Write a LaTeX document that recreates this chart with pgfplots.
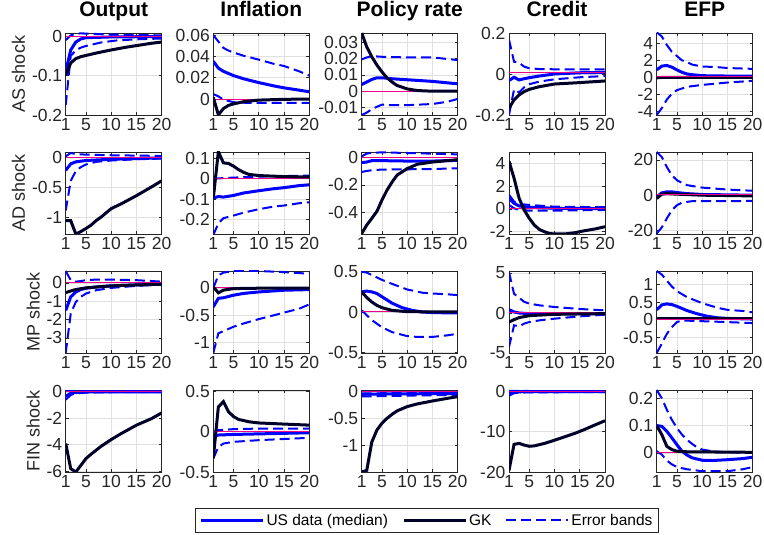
\documentclass[border=0pt]{standalone}
\usepackage{pgfplots}
\pgfplotsset{compat=1.18}
\usepackage{fontspec}
\setmainfont{Liberation Sans}

\definecolor{gkc}{RGB}{0,0,40}
\definecolor{axc}{RGB}{38,38,38}

\tikzset{
  med/.style={blue, line width=3pt},
  gk/.style={gkc, line width=3pt},
  band/.style={blue, line width=2pt, dash pattern=on 10pt off 5pt},
  zero/.style={magenta, line width=1pt},
}

\pgfplotsset{
  panel/.style={
    scale only axis, width=96pt, height=82pt,
    xmin=1, xmax=20, xtick={1,5,10,15,20},
    scaled y ticks=false,
    grid=major, major grid style={black!12, line width=0.6pt},
    axis line style={axc, line width=0.6pt},
    tick style={axc, line width=0.6pt}, major tick length=3pt,
    tick align=inside,
    ticklabel style={font=\fontsize{17.5}{17.5}\selectfont, text=axc},
    /pgf/number format/assume math mode=true,
    title style={font=\bfseries\fontsize{21}{21}\selectfont, anchor=base, yshift=10pt},
    ylabel style={font=\fontsize{18}{18}\selectfont, text=axc},
  },
}

\begin{document}
\begin{tikzpicture}
\useasboundingbox (0,0) rectangle (764pt,535pt);

% ---------- row 1: AS shock ----------
\begin{axis}[panel, at={(65.7pt,420pt)}, title=Output, ylabel={AS shock},
  ymin=-0.2, ymax=0.008, ytick={-0.2,-0.1,0}, yticklabels={-0.2,-0.1,0}]
\addplot[band] coordinates {(1,-0.01)(2,0.002)(3,0.006)(4,0.007)(6,0.006)(10,0.004)(15,0.003)(20,0.002)};
\addplot[band] coordinates {(1,-0.175)(2,-0.05)(3,-0.036)(4,-0.029)(5,-0.025)(8,-0.016)(11,-0.011)(15,-0.008)(20,-0.006)};
\addplot[med] coordinates {(1,-0.09)(2,-0.035)(3,-0.015)(4,-0.007)(5,-0.004)(10,-0.002)(20,-0.001)};
\addplot[zero] coordinates {(1,0)(20,0)};
\addplot[gk] coordinates {(1,-0.1)(2,-0.068)(3,-0.057)(4,-0.052)(5,-0.049)(7,-0.043)(10,-0.035)(13,-0.028)(15,-0.024)(18,-0.018)(20,-0.015)};
\end{axis}

\begin{axis}[panel, at={(213.3pt,420pt)}, title=Inflation,
  ymin=-0.015, ymax=0.062, ytick={0,0.02,0.04,0.06}, yticklabels={0,0.02,0.04,0.06}]
\addplot[band] coordinates {(1,0.06)(2,0.054)(3,0.048)(4,0.0455)(5,0.0437)(7,0.0406)(10,0.037)(13,0.033)(15,0.031)(18,0.026)(20,0.022)};
\addplot[band] coordinates {(1,0.0046)(2,0.0025)(3,-0.0006)(5,-0.003)(8,-0.0037)(20,-0.0037)};
\addplot[med] coordinates {(1,0.0354)(2,0.029)(3,0.026)(5,0.022)(7,0.019)(10,0.0154)(13,0.0123)(15,0.0105)(18,0.0083)(20,0.0068)};
\addplot[zero] coordinates {(1,0)(20,0)};
\addplot[gk] coordinates {(1,0.0015)(2,-0.0148)(3,-0.009)(4,-0.006)(5,-0.0046)(7,-0.0025)(10,-0.001)(15,-0.0003)(20,0)};
\end{axis}

\begin{axis}[panel, at={(361.7pt,420pt)}, title={Policy rate},
  ymin=-0.0145, ymax=0.0355, ytick={-0.01,0,0.01,0.02,0.03}, yticklabels={-0.01,0,0.01,0.02,0.03}]
\addplot[band] coordinates {(1,0.0194)(2,0.0206)(3,0.0214)(5,0.021)(10,0.0206)(15,0.0206)(20,0.019)};
\addplot[band] coordinates {(1,-0.0146)(2,-0.013)(3,-0.011)(4,-0.0095)(5,-0.0082)(7,-0.0085)(10,-0.0085)(15,-0.0078)(18,-0.0064)(20,-0.0047)};
\addplot[med] coordinates {(1,0.0041)(2,0.0056)(3,0.0072)(4,0.0082)(5,0.0082)(7,0.0076)(10,0.007)(15,0.006)(20,0.0045)};
\addplot[zero] coordinates {(1,0)(20,0)};
\addplot[gk] coordinates {(1,0.0355)(2,0.027)(3,0.021)(4,0.016)(5,0.0118)(6,0.0082)(7,0.0056)(8,0.0035)(10,0.0014)(12,0.0004)(15,0)(20,0)};
\end{axis}

\begin{axis}[panel, at={(509pt,420pt)}, title=Credit,
  ymin=-0.2, ymax=0.2, ytick={-0.2,0,0.2}, yticklabels={-0.2,0,0.2}]
\addplot[band] coordinates {(1,0.168)(2,0.06)(3,0.055)(4,0.036)(5,0.028)(7,0.024)(10,0.023)(20,0.023)};
\addplot[band] coordinates {(1,-0.2)(2,-0.075)(3,-0.09)(4,-0.065)(5,-0.05)(7,-0.037)(10,-0.026)(15,-0.016)(20,-0.01)};
\addplot[med] coordinates {(1,-0.032)(2,-0.016)(3,-0.029)(4,-0.023)(5,-0.018)(7,-0.01)(10,0)(15,0.006)(20,0.008)};
\addplot[zero] coordinates {(1,0.005)(20,0.005)};
\addplot[gk] coordinates {(1,-0.167)(2,-0.126)(3,-0.102)(4,-0.086)(5,-0.075)(7,-0.062)(10,-0.049)(15,-0.042)(20,-0.034)};
\end{axis}

\begin{axis}[panel, at={(656.7pt,420pt)}, title=EFP,
  ymin=-4.4, ymax=5.2, ytick={-4,-2,0,2,4}, yticklabels={-4,-2,0,2,4}]
\addplot[band] coordinates {(1,5.28)(2,4.8)(3,3.8)(4,3.0)(5,2.5)(6,2.0)(7,1.8)(8,1.5)(10,1.28)(13,1.2)(15,1.1)(20,1.0)};
\addplot[band] coordinates {(1,-4.4)(2,-3.6)(3,-2.6)(4,-1.9)(5,-1.5)(7,-1.1)(10,-0.88)(15,-0.6)(20,-0.4)};
\addplot[med] coordinates {(1,0.88)(2,1.32)(3,1.4)(4,1.2)(5,0.88)(6,0.6)(7,0.4)(8,0.32)(10,0.2)(15,0.16)(20,0.16)};
\addplot[gk] coordinates {(1,-0.05)(2,0)(20,0)};
\addplot[zero] coordinates {(1,0.1)(20,0.1)};
\end{axis}

% ---------- row 2: AD shock ----------
\begin{axis}[panel, at={(65.7pt,301pt)}, ylabel={AD shock},
  ymin=-1.27, ymax=0.087, ytick={-1,-0.5,0}, yticklabels={-1,-0.5,0}]
\addplot[band] coordinates {(1,0.016)(2,0.07)(3,0.054)(5,0.043)(10,0.033)(20,0.022)};
\addplot[band] coordinates {(1,-0.88)(2,-0.39)(3,-0.228)(4,-0.163)(5,-0.12)(7,-0.076)(10,-0.054)(15,-0.033)(20,-0.022)};
\addplot[med] coordinates {(1,-0.217)(2,-0.109)(3,-0.076)(5,-0.054)(10,-0.033)(20,-0.011)};
\addplot[zero] coordinates {(1,0)(20,0)};
\addplot[gk] coordinates {(1,-1.05)(2,-1.05)(3,-1.27)(4,-1.23)(5,-1.18)(6,-1.125)(7,-1.05)(8,-0.99)(10,-0.85)(12,-0.77)(15,-0.636)(18,-0.49)(20,-0.39)};
\end{axis}

\begin{axis}[panel, at={(213.3pt,301pt)},
  ymin=-0.27, ymax=0.13, ytick={-0.2,-0.1,0,0.1}, yticklabels={-0.2,-0.1,0,0.1}]
\addplot[band] coordinates {(1,0)(5,0.005)(10,0.01)(20,0.015)};
\addplot[band] coordinates {(1,-0.275)(2,-0.218)(3,-0.193)(5,-0.18)(7,-0.166)(10,-0.149)(13,-0.136)(15,-0.131)(18,-0.12)(20,-0.115)};
\addplot[med] coordinates {(1,-0.095)(2,-0.087)(3,-0.09)(5,-0.082)(7,-0.07)(10,-0.059)(13,-0.049)(15,-0.044)(18,-0.034)(20,-0.03)};
\addplot[zero] coordinates {(1,0)(20,0)};
\addplot[gk] coordinates {(1,-0.095)(2,0.131)(3,0.077)(4,0.074)(5,0.061)(6,0.044)(7,0.031)(8,0.021)(10,0.015)(15,0.01)(20,0.008)};
\end{axis}

\begin{axis}[panel, at={(361.7pt,301pt)},
  ymin=-0.552, ymax=0.036, ytick={-0.4,-0.2,0}, yticklabels={-0.4,-0.2,0}]
\addplot[band] coordinates {(1,0.005)(2,0.024)(3,0.031)(5,0.033)(10,0.029)(15,0.024)(20,0.019)};
\addplot[band] coordinates {(1,-0.107)(2,-0.1)(3,-0.095)(5,-0.09)(10,-0.088)(15,-0.086)(20,-0.081)};
\addplot[zero] coordinates {(1,0)(20,0)};
\addplot[med] coordinates {(1,-0.04)(2,-0.036)(3,-0.026)(5,-0.026)(10,-0.029)(15,-0.029)(20,-0.024)};
\addplot[gk] coordinates {(1,-0.548)(2,-0.488)(3,-0.44)(4,-0.39)(5,-0.31)(6,-0.238)(7,-0.18)(8,-0.13)(10,-0.083)(12,-0.052)(15,-0.036)(20,-0.019)};
\end{axis}

\begin{axis}[panel, at={(509pt,301pt)},
  ymin=-2.2, ymax=5, ytick={-2,0,2,4}, yticklabels={-2,0,2,4}]
\addplot[band] coordinates {(1,1.24)(2,0.65)(3,0.44)(5,0.35)(10,0.2)(20,0.15)};
\addplot[band] coordinates {(1,0.35)(2,0.06)(3,-0.09)(5,-0.15)(10,-0.15)(20,-0.09)};
\addplot[med] coordinates {(1,0.94)(2,0.5)(3,0.26)(5,0.15)(10,0.06)(20,0.03)};
\addplot[zero] coordinates {(1,0)(20,0)};
\addplot[gk] coordinates {(1,4.18)(2,2.7)(3,0.94)(4,-0.09)(5,-0.82)(6,-1.41)(7,-1.8)(8,-2.0)(9,-2.15)(10,-2.2)(12,-2.2)(14,-2.09)(16,-1.91)(18,-1.76)(20,-1.56)};
\end{axis}

\begin{axis}[panel, at={(656.7pt,301pt)},
  ymin=-22, ymax=24.5, ytick={-20,0,20}, yticklabels={-20,0,20}]
\addplot[band] coordinates {(1,24.5)(2,21.7)(3,16)(4,11.3)(5,8.5)(6,7)(7,5.7)(10,4.3)(15,3.2)(20,2.5)};
\addplot[band] coordinates {(1,-21.7)(2,-18.3)(3,-13.2)(4,-8.5)(5,-5.7)(6,-4.2)(8,-3.4)(15,-3.4)(20,-3.2)};
\addplot[med] coordinates {(1,-0.9)(2,1.3)(3,1.9)(4,1.9)(5,1.5)(7,0.9)(10,0.4)(20,0)};
\addplot[gk] coordinates {(1,-1.9)(2,0.6)(3,0.9)(5,0.6)(10,0)(20,-0.4)};
\addplot[zero] coordinates {(1,0.5)(20,0.5)};
\end{axis}

% ---------- row 3: MP shock ----------
\begin{axis}[panel, at={(65.7pt,182pt)}, ylabel={MP shock},
  ymin=-3.82, ymax=0.65, ytick={-3,-2,-1,0}, yticklabels={-3,-2,-1,0}]
\addplot[band] coordinates {(1,0.65)(2,0.15)(3,0.07)(4,0.1)(5,0.15)(7,0.18)(10,0.18)(15,0.15)(20,0.07)};
\addplot[band] coordinates {(1,-3.82)(2,-1.67)(3,-1.04)(4,-0.76)(5,-0.58)(7,-0.4)(10,-0.27)(15,-0.16)(20,-0.09)};
\addplot[med] coordinates {(1,-1.5)(2,-0.76)(3,-0.49)(4,-0.36)(5,-0.29)(7,-0.22)(10,-0.16)(15,-0.11)(20,-0.07)};
\addplot[zero] coordinates {(1,0)(20,0)};
\addplot[gk] coordinates {(1,-0.53)(2,-0.44)(3,-0.36)(5,-0.27)(10,-0.16)(15,-0.11)(20,-0.07)};
\end{axis}

\begin{axis}[panel, at={(213.3pt,182pt)},
  ymin=-1.19, ymax=0.31, ytick={-1,-0.5,0}, yticklabels={-1,-0.5,0}]
\addplot[band] coordinates {(1,0)(2,0.23)(3,0.28)(5,0.31)(10,0.31)(15,0.29)(20,0.26)};
\addplot[band] coordinates {(1,-1.19)(2,-0.83)(3,-0.79)(5,-0.71)(7,-0.65)(10,-0.57)(13,-0.5)(15,-0.45)(18,-0.38)(20,-0.3)};
\addplot[med] coordinates {(1,-0.345)(2,-0.19)(3,-0.18)(5,-0.133)(7,-0.1)(10,-0.073)(15,-0.042)(20,-0.03)};
\addplot[zero] coordinates {(1,0)(20,0)};
\addplot[gk] coordinates {(1,0.02)(2,-0.09)(3,-0.04)(5,-0.012)(10,-0.005)(20,-0.003)};
\end{axis}

\begin{axis}[panel, at={(361.7pt,182pt)},
  ymin=-0.51, ymax=0.51, ytick={-0.5,0,0.5}, yticklabels={-0.5,0,0.5}]
\addplot[band] coordinates {(1,0.5)(2,0.49)(3,0.46)(5,0.4)(7,0.35)(10,0.28)(13,0.24)(15,0.23)(18,0.22)(20,0.21)};
\addplot[band] coordinates {(1,0.02)(2,-0.04)(3,-0.1)(5,-0.19)(7,-0.25)(10,-0.3)(12,-0.31)(15,-0.31)(18,-0.29)(20,-0.27)};
\addplot[med] coordinates {(1,0.25)(2,0.26)(3,0.25)(4,0.23)(5,0.19)(7,0.11)(9,0.054)(11,0.02)(13,0)(15,-0.008)(20,-0.012)};
\addplot[zero] coordinates {(1,0)(20,0)};
\addplot[gk] coordinates {(1,0.25)(2,0.18)(3,0.125)(4,0.083)(5,0.054)(7,0.02)(10,0.004)(20,0)};
\end{axis}

\begin{axis}[panel, at={(509pt,182pt)},
  ymin=-5, ymax=5.25, ytick={-5,0,5}, yticklabels={-5,0,5}]
\addplot[band] coordinates {(1,5.1)(2,2.4)(3,1.9)(4,1.4)(5,1.17)(7,0.96)(10,0.75)(15,0.5)(20,0.33)};
\addplot[band] coordinates {(1,-4.25)(2,-1.54)(3,-1.67)(4,-1.33)(5,-1.13)(7,-0.92)(10,-0.71)(15,-0.42)(20,-0.21)};
\addplot[med] coordinates {(1,0.42)(2,0.13)(3,0)(5,-0.08)(10,-0.08)(20,-0.08)};
\addplot[zero] coordinates {(1,0)(20,0)};
\addplot[gk] coordinates {(1,-1.13)(2,-0.83)(3,-0.58)(5,-0.33)(10,-0.17)(15,-0.12)(20,-0.08)};
\end{axis}

\begin{axis}[panel, at={(656.7pt,182pt)},
  ymin=-0.94, ymax=1.38, ytick={-0.5,0,0.5,1}, yticklabels={-0.5,0,0.5,1}]
\addplot[band] coordinates {(1,1.38)(2,1.28)(3,1.11)(4,0.94)(5,0.81)(7,0.64)(10,0.47)(13,0.34)(15,0.28)(18,0.25)(20,0.21)};
\addplot[band] coordinates {(1,-0.94)(2,-0.68)(3,-0.4)(4,-0.21)(5,-0.066)(6,-0.02)(10,-0.04)(15,-0.066)(20,-0.094)};
\addplot[med] coordinates {(1,0.28)(2,0.42)(3,0.45)(4,0.43)(5,0.38)(7,0.26)(9,0.17)(11,0.1)(13,0.057)(15,0.038)(20,0.02)};
\addplot[gk] coordinates {(1,0.03)(20,0.03)};
\addplot[zero] coordinates {(1,0)(20,0)};
\end{axis}

% ---------- row 4: FIN shock ----------
\begin{axis}[panel, at={(65.7pt,63pt)}, ylabel={FIN shock},
  ymin=-6.07, ymax=0.13, ytick={-6,-4,-2,0}, yticklabels={-6,-4,-2,0}]
\addplot[band] coordinates {(1,0.05)(5,0.05)(20,0.03)};
\addplot[band] coordinates {(1,-0.6)(2,-0.25)(3,-0.12)(5,-0.07)(10,-0.04)(20,-0.03)};
\addplot[med] coordinates {(1,-0.35)(2,-0.12)(3,-0.05)(5,-0.02)(20,-0.01)};
\addplot[zero] coordinates {(1,0)(20,0)};
\addplot[gk] coordinates {(1,-3.92)(2,-5.82)(3,-6.07)(4,-5.57)(5,-5.06)(6,-4.73)(7,-4.43)(8,-4.13)(10,-3.62)(12,-3.16)(15,-2.53)(18,-2.03)(20,-1.6)};
\end{axis}

\begin{axis}[panel, at={(213.3pt,63pt)},
  ymin=-0.5, ymax=0.52, ytick={-0.5,0,0.5}, yticklabels={-0.5,0,0.5}]
\addplot[band] coordinates {(1,0)(2,0.02)(5,0.033)(10,0.04)(20,0.04)};
\addplot[band] coordinates {(1,-0.33)(2,-0.19)(3,-0.146)(5,-0.125)(10,-0.104)(20,-0.075)};
\addplot[med] coordinates {(1,-0.06)(2,-0.04)(5,-0.033)(20,-0.012)};
\addplot[zero] coordinates {(1,0)(20,0)};
\addplot[gk] coordinates {(1,-0.33)(2,0.31)(3,0.375)(4,0.25)(5,0.19)(6,0.154)(7,0.14)(8,0.125)(10,0.11)(15,0.096)(20,0.083)};
\end{axis}

\begin{axis}[panel, at={(361.7pt,63pt)},
  ymin=-1.5, ymax=0.03, ytick={-1,-0.5,0}, yticklabels={-1,-0.5,0},
  legend image code/.code={\draw[#1] (0pt,0pt) -- (62pt,0pt);},
  legend columns=3,
  legend style={at={(0.68,-0.59)}, anchor=center, draw=axc, line width=0.6pt,
    font=\fontsize{15.5}{15.5}\selectfont, inner xsep=4pt, inner ysep=3.5pt,
    /tikz/every even column/.append style={column sep=12pt}}]
\addlegendimage{med}
\addlegendimage{gk}
\addlegendimage{band}
\legend{US data (median), GK, Error bands}
\addplot[band] coordinates {(1,0)(5,-0.003)(20,-0.003)};
\addplot[band] coordinates {(1,-0.09)(5,-0.085)(10,-0.075)(20,-0.06)};
\addplot[med] coordinates {(1,-0.05)(5,-0.045)(20,-0.035)};
\addplot[zero] coordinates {(1,0.01)(20,0.01)};
\addplot[gk] coordinates {(1,-1.5)(2,-1.47)(3,-0.94)(4,-0.72)(5,-0.59)(6,-0.5)(7,-0.425)(8,-0.36)(10,-0.28)(12,-0.23)(15,-0.175)(18,-0.125)(20,-0.094)};
\end{axis}

\begin{axis}[panel, at={(509pt,63pt)},
  ymin=-20, ymax=0.4, ytick={-20,-10,0}, yticklabels={-20,-10,0}]
\addplot[band] coordinates {(1,0.2)(5,0.15)(20,0.1)};
\addplot[band] coordinates {(1,-1.0)(2,-0.4)(3,-0.25)(5,-0.2)(20,-0.1)};
\addplot[med] coordinates {(1,-0.5)(2,-0.15)(3,-0.05)(5,0)(20,0)};
\addplot[zero] coordinates {(1,0)(20,0)};
\addplot[gk] coordinates {(1,-19.6)(2,-13.1)(3,-12.9)(4,-13.3)(5,-13.6)(6,-13.5)(8,-12.9)(10,-12.1)(12,-11.25)(14,-10.4)(16,-9.4)(18,-8.3)(20,-7.25)};
\end{axis}

\begin{axis}[panel, at={(656.7pt,63pt)},
  ymin=-0.07, ymax=0.23, ytick={0,0.1,0.2}, yticklabels={0,0.1,0.2}]
\addplot[band] coordinates {(1,0.23)(2,0.2)(3,0.158)(4,0.121)(5,0.091)(6,0.067)(7,0.048)(8,0.033)(9,0.02)(10,0.012)(12,0.006)(15,0.002)(20,0)};
\addplot[band] coordinates {(1,0.006)(2,-0.006)(3,-0.028)(4,-0.042)(5,-0.052)(7,-0.06)(10,-0.067)(15,-0.067)(18,-0.06)(20,-0.052)};
\addplot[med] coordinates {(1,0.1)(2,0.097)(3,0.079)(4,0.055)(5,0.03)(6,0.006)(7,-0.008)(8,-0.018)(10,-0.027)(12,-0.028)(15,-0.025)(18,-0.021)(20,-0.016)};
\addplot[zero] coordinates {(1,0)(20,0)};
\addplot[gk] coordinates {(1,0.1)(2,0.067)(3,0.024)(4,0.012)(5,0.006)(7,0.004)(20,0.002)};
\end{axis}

\end{tikzpicture}
\end{document}
